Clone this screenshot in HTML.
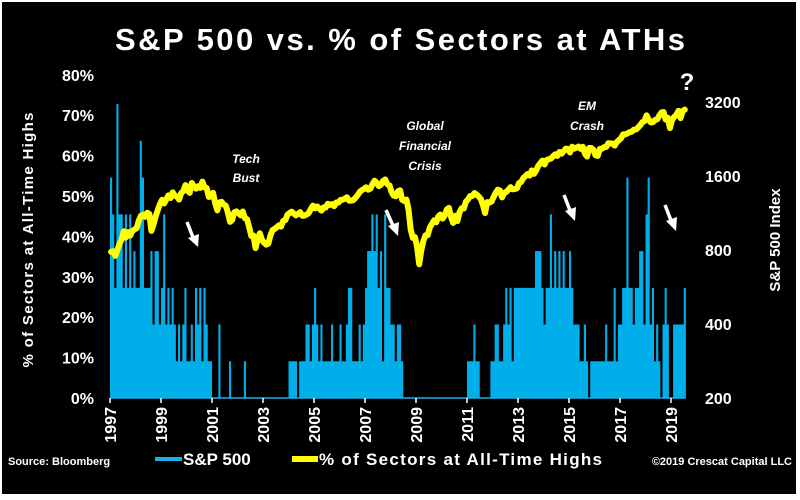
<!DOCTYPE html>
<html><head><meta charset="utf-8"><style>
html,body{margin:0;padding:0;background:#fff;}
svg{display:block;font-family:"Liberation Sans",sans-serif;}
</style></head><body>
<svg id="chart" width="800" height="500" viewBox="0 0 800 500">
<rect x="2" y="2" width="794" height="492" fill="#000"/>
<text x="400" y="50" fill="#fff" font-size="31" font-weight="bold" text-anchor="middle" textLength="570">S&amp;P 500 vs. % of Sectors at ATHs</text>
<g id="bars"></g>
<g id="line"></g>
<g id="axes"></g>
<text transform="translate(33,240) rotate(-90)" fill="#fff" font-size="15" font-weight="bold" text-anchor="middle" textLength="255">% of Sectors at All-Time Highs</text>
<text transform="translate(780,240) rotate(-90)" fill="#fff" font-size="15" font-weight="bold" text-anchor="middle">S&amp;P 500 Index</text>
<g fill="#fff" font-size="12" font-weight="bold" font-style="italic" text-anchor="middle">
<text x="246" y="163"><tspan x="246">Tech</tspan><tspan x="246" dy="19">Bust</tspan></text>
<text x="425" y="130"><tspan x="425">Global</tspan><tspan x="425" dy="20">Financial</tspan><tspan x="425" dy="20">Crisis</tspan></text>
<text x="587" y="110"><tspan x="587">EM</tspan><tspan x="587" dy="20">Crash</tspan></text>
</g>
<text x="687" y="90" fill="#fff" font-size="24" font-weight="bold" text-anchor="middle">?</text>
<g fill="#fff" stroke="#fff" stroke-width="3.5">
<g><line x1="187" y1="222" x2="194" y2="240"/><polygon points="188,238 199,234 198,247" stroke="none"/></g>
<g><line x1="386" y1="210" x2="394" y2="228"/><polygon points="388,226 399,222 398,236" stroke="none"/></g>
<g><line x1="564" y1="195" x2="571" y2="213"/><polygon points="565,211 576,207 575,221" stroke="none"/></g>
<g><line x1="665" y1="205" x2="672" y2="223"/><polygon points="666,221 677,217 676,231" stroke="none"/></g>
</g>
<text x="8" y="465" fill="#fff" font-size="11" font-weight="bold">Source: Bloomberg</text>
<line x1="155" y1="459" x2="182" y2="459" stroke="#1ab0e8" stroke-width="4"/>
<text x="183" y="465" fill="#fff" font-size="17" font-weight="bold">S&amp;P 500</text>
<line x1="292" y1="459" x2="318" y2="459" stroke="#ffff00" stroke-width="6"/>
<text x="319" y="465" fill="#fff" font-size="17" font-weight="bold" textLength="283">% of Sectors at All-Time Highs</text>
<text x="792" y="465" fill="#fff" font-size="11" font-weight="bold" text-anchor="end">©2019 Crescat Capital LLC</text>
</svg>
<script>
const startYear = 1997;
const sectorCounts = [
6,5,3,8,5,5,3,5,3,5,3,4,
3,3,7,6,3,3,3,4,2,4,4,2,
3,5,2,3,2,3,2,1,2,1,2,3,
1,1,2,1,3,2,3,1,3,2,1,1,
0,0,0,2,0,0,0,0,1,0,0,0,
0,0,0,1,0,0,0,0,0,0,0,0,
0,0,0,0,0,0,0,0,0,0,0,0,
1,1,1,1,0,1,1,1,2,2,1,2,
3,2,1,2,1,1,1,1,2,1,1,1,
2,1,1,2,3,3,1,1,1,2,1,2,
3,4,4,5,4,5,3,4,1,5,3,3,
2,2,1,2,2,1,0,0,0,0,0,0,
0,0,0,0,0,0,0,0,0,0,0,0,
0,0,0,0,0,0,0,0,0,0,0,0,
1,1,1,2,1,1,0,0,0,0,0,1,
1,2,2,1,1,2,3,2,3,1,3,3,
3,3,3,3,3,3,3,3,4,4,4,3,
2,3,3,5,3,4,3,4,3,4,3,3,
4,3,2,2,2,1,1,2,1,0,1,1,
1,1,1,1,1,2,1,1,1,3,1,2,
2,3,3,6,3,3,2,3,3,4,4,2,
5,6,2,3,1,2,1,0,2,3,2,0,
0,2,2,2,2,2,3];
const totalSectors = 11;
const sp500 = [
786,791,757,801,848,885,954,899,947,915,955,970,
980,1049,1101,1112,1091,1134,1121,957,1017,1098,1164,1229,
1280,1238,1286,1335,1302,1373,1329,1320,1283,1363,1389,1469,
1394,1366,1499,1452,1421,1455,1431,1518,1437,1429,1315,1320,
1366,1240,1160,1249,1256,1224,1211,1134,1041,1060,1139,1148,
1130,1107,1147,1077,1067,990,912,916,815,886,936,880,
856,841,848,917,964,975,990,1008,996,1051,1058,1112,
1131,1145,1126,1107,1121,1141,1102,1104,1115,1130,1174,1212,
1181,1204,1181,1157,1192,1191,1234,1220,1229,1207,1249,1248,
1280,1281,1295,1311,1270,1270,1277,1304,1336,1378,1401,1418,
1438,1407,1421,1482,1531,1503,1455,1474,1527,1549,1481,1468,
1379,1331,1323,1386,1400,1280,1267,1283,1166,969,896,903,
826,700,798,873,919,919,987,1021,1057,1036,1096,1115,
1074,1104,1169,1187,1089,1031,1102,1049,1141,1183,1181,1258,
1286,1327,1326,1364,1345,1321,1292,1219,1131,1253,1247,1258,
1312,1366,1408,1398,1310,1362,1379,1407,1441,1412,1416,1426,
1498,1515,1569,1598,1631,1606,1686,1633,1682,1757,1806,1848,
1783,1859,1872,1884,1924,1960,1931,2003,1972,2018,2068,2059,
1995,2105,2068,2086,2107,2063,2104,1972,1920,2079,2080,2044,
1940,1932,2060,2065,2097,2099,2174,2171,2168,2126,2199,2239,
2279,2364,2363,2384,2412,2423,2470,2472,2519,2575,2648,2674,
2824,2714,2641,2648,2705,2718,2816,2902,2914,2712,2760,2507,
2704,2784,2834,2946,2752,2942,2980];
const leftTicks = [0,10,20,30,40,50,60,70,80];
const rightTicks = [200,400,800,1600,3200];
const yearTicks = [1997,1999,2001,2003,2005,2007,2009,2011,2013,2015,2017,2019];

const NS = "http://www.w3.org/2000/svg";
const X0 = 110, PXY = 25.5, Y0 = 398;
const xScale = t => X0 + (t - startYear) * PXY;
const yLeft = p => Y0 - p * 4.04;
const yRight = v => Y0 - Math.log2(v / 200) * 74;
function mk(tag, attrs, parent){const e=document.createElementNS(NS,tag);for(const k in attrs)e.setAttribute(k,attrs[k]);parent.appendChild(e);return e;}

const bars = document.getElementById('bars');
let d = "M" + xScale(startYear) + "," + Y0;
sectorCounts.forEach((c,i)=>{
  const x1 = xScale(startYear + i/12), x2 = xScale(startYear + (i+1)/12);
  const y = yLeft(c / totalSectors * 100);
  d += " L" + x1.toFixed(2) + "," + y.toFixed(2) + " L" + x2.toFixed(2) + "," + y.toFixed(2);
});
d += " L" + xScale(startYear + sectorCounts.length/12).toFixed(2) + "," + Y0 + " Z";
const area = mk('path',{d:d,fill:'#00aeea'},bars);



const lineG = document.getElementById('line');
const pts = sp500.map((v,i)=>xScale(startYear + (i+0.5)/12).toFixed(2)+","+yRight(v).toFixed(2)).join(" ");
const pl = mk('polyline',{points:pts,fill:'none',stroke:'#ffff00','stroke-width':6,'stroke-linejoin':'round','stroke-linecap':'round'},lineG);



const axes = document.getElementById('axes');
const base = mk('line',{x1:X0,y1:Y0,x2:xScale(startYear+sectorCounts.length/12),y2:Y0,stroke:'#1ab0e8','stroke-width':1.5},axes);


leftTicks.forEach(p=>{
  const t = mk('text',{x:94,y:yLeft(p)+6,fill:'#fff','font-size':16,'font-weight':'bold','text-anchor':'end'},axes);
  t.textContent = p + "%";
  
  
});
rightTicks.forEach(v=>{
  const t = mk('text',{x:705,y:yRight(v)+6,fill:'#fff','font-size':16,'font-weight':'bold'},axes);
  t.textContent = v;
  
  
});
yearTicks.forEach(y=>{
  const x = xScale(y);
  const tk = mk('line',{x1:x,y1:Y0,x2:x,y2:Y0+5,stroke:'#fff','stroke-width':1.5},axes);
  
  
  const t = mk('text',{transform:`translate(${x+6},${Y0+9}) rotate(-90)`,fill:'#fff','font-size':16,'font-weight':'bold','text-anchor':'end'},axes);
  t.textContent = y;
  
  
});
</script>
</body></html>
